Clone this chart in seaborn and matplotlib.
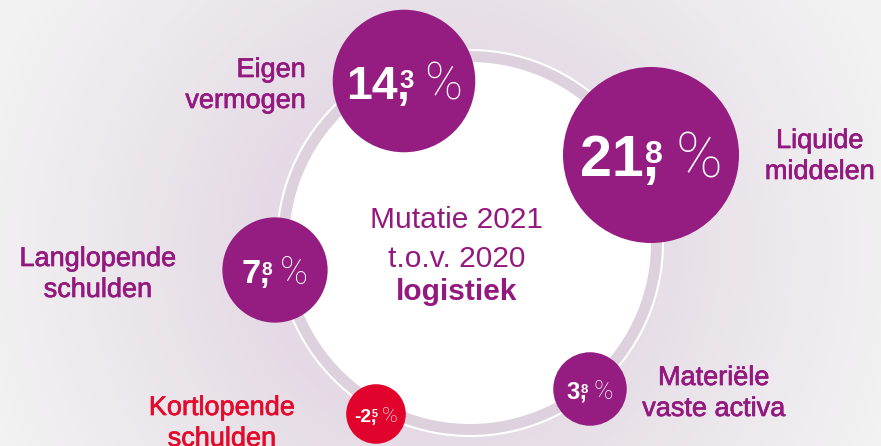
import numpy as np
import pandas as pd
import matplotlib
matplotlib.use("Agg")
import matplotlib.pyplot as plt
import matplotlib.patheffects as pe
from matplotlib.patches import Circle
import seaborn as sns

# ---- data -------------------------------------------------------------
categories = ["Eigen vermogen", "Liquide middelen", "Langlopende schulden",
              "Kortlopende schulden", "Materiële vaste activa"]
changes = [14.3, 21.8, 7.8, -2.5, 3.8]          # % change 2021 vs 2020
label_lines = [["Eigen", "vermogen"], ["Liquide", "middelen"],
               ["Langlopende", "schulden"], ["Kortlopende", "schulden"],
               ["Materiële", "vaste activa"]]
center_lines = ["Mutatie 2021", "t.o.v. 2020", "logistiek"]

# ---- layout (pixel canvas, y grows downwards) -------------------------
W, H = 881, 446
DPI = 100
ring_center = (470, 243)
ring_radius = 193
disk_radius = 181
bubble_pos = {
    "Eigen vermogen": (404, 81),
    "Liquide middelen": (651, 155),
    "Langlopende schulden": (275, 270),
    "Kortlopende schulden": (376, 414),
    "Materiële vaste activa": (590, 389),
}
# (x, baseline of first line, alignment)
label_pos = {
    "Eigen vermogen": (306, 77, "right"),
    "Liquide middelen": (820, 148, "center"),
    "Langlopende schulden": (98, 266, "center"),
    "Kortlopende schulden": (222, 415, "center"),
    "Materiële vaste activa": (714, 385, "center"),
}
line_gap = 31
center_x = 457
center_baselines = [228, 267, 300]

PX_PER_SQRT = 18.85          # bubble radius in px per sqrt(|%|)
PURPLE = "#951c80"
RED = "#e2032d"
TEXT_PURPLE = "#93197f"
TEXT_RED = "#e30b2c"
FONT = "Liberation Sans"

sns.set_theme(style="white")
plt.rcParams["font.family"] = [FONT, "DejaVu Sans"]

fig = plt.figure(figsize=(W / DPI, H / DPI), dpi=DPI)
ax = fig.add_axes([0, 0, 1, 1])

# soft radial background
yy, xx = np.mgrid[0:H, 0:W] + 0.5
d = np.hypot(xx - 440, yy - 250)
t = np.clip((d - 170) / 300, 0, 1) ** 0.9
inner = np.array([0xe4, 0xd9, 0xe5]) / 255
outer = np.array([0xf2, 0xf2, 0xf2]) / 255
bg = inner * (1 - t)[..., None] + outer * t[..., None]
ax.imshow(bg, extent=(0, W, H, 0), zorder=0, interpolation="bilinear")

# ring behind the bubbles
ax.add_patch(Circle(ring_center, ring_radius, facecolor="#ddd1de",
                    edgecolor="white", linewidth=1.5, zorder=1))
ax.add_patch(Circle(ring_center, disk_radius, facecolor="white",
                    edgecolor="none", zorder=2))

# bubbles: area proportional to |change|
df = pd.DataFrame({"category": categories, "change": changes})
df["x"] = [bubble_pos[c][0] for c in categories]
df["y"] = [bubble_pos[c][1] for c in categories]
df["sign"] = np.where(df["change"] < 0, "neg", "pos")
pt_per_px = 72 / DPI
marker_sizes = {c: (2 * PX_PER_SQRT * np.sqrt(abs(v)) * pt_per_px) ** 2
                for c, v in zip(categories, changes)}
sns.scatterplot(data=df, x="x", y="y", hue="sign", size="category",
                sizes=marker_sizes, palette={"pos": PURPLE, "neg": RED},
                linewidth=0, legend=False, ax=ax, zorder=3)

ax.set_xlim(0, W)
ax.set_ylim(H, 0)
ax.set_aspect("equal")
ax.axis("off")

renderer = fig.canvas.get_renderer()


def width_px(txt):
    return txt.get_window_extent(renderer).width


def value_label(cx, cy, value, r_px):
    fs = 0.468 * r_px                 # pt
    fs_px = fs / pt_per_px
    cap = 0.716 * fs_px
    whole, frac = f"{value:.1f}".split(".")
    baseline = cy + cap / 2 + 1
    kw = dict(color="white", zorder=5, va="baseline", ha="left")
    t_int = ax.text(0, baseline, whole, fontsize=fs, fontweight="bold", **kw)
    t_com = ax.text(0, baseline, ",", fontsize=fs, fontweight="bold", **kw)
    sup_fs = fs * 0.56
    sup_cap = 0.716 * sup_fs / pt_per_px
    sup_base = baseline - cap + 0.12 * cap + sup_cap
    t_sup = ax.text(0, sup_base, frac, fontsize=sup_fs, fontweight="bold", **kw)
    t_pct = ax.text(0, baseline + 0.02 * cap, "%", fontsize=fs * 1.1,
                    family=["Roboto", "DejaVu Sans"], fontweight="light", **kw)
    w_int, w_com, w_sup, w_pct = (width_px(t) for t in (t_int, t_com, t_sup, t_pct))
    gap = 0.2 * fs_px
    total = w_int + max(w_com, w_sup + 0.05 * fs_px) + gap + w_pct
    x0 = cx - total / 2
    t_int.set_x(x0)
    t_com.set_x(x0 + w_int - 0.02 * fs_px)
    t_sup.set_x(x0 + w_int + 0.03 * fs_px)
    t_pct.set_x(x0 + w_int + max(w_com, w_sup + 0.05 * fs_px) + gap)


for cat, val in zip(categories, changes):
    cx, cy = bubble_pos[cat]
    value_label(cx, cy, val, PX_PER_SQRT * np.sqrt(abs(val)))

# category labels
for cat, val, lines in zip(categories, changes, label_lines):
    x, y0, ha = label_pos[cat]
    col = TEXT_RED if val < 0 else TEXT_PURPLE
    for i, line in enumerate(lines):
        ax.text(x, y0 + i * line_gap, line, fontsize=19.5, color=col, ha=ha,
                va="baseline", zorder=5,
                path_effects=[pe.withStroke(linewidth=0.5, foreground=col)])

# centre caption
for i, (line, yb) in enumerate(zip(center_lines, center_baselines)):
    ax.text(center_x, yb, line, fontsize=21.5, color=TEXT_PURPLE, ha="center",
            va="baseline", zorder=5,
            fontweight="bold" if i == 2 else "normal")

fig.savefig("out.png", dpi=DPI)
